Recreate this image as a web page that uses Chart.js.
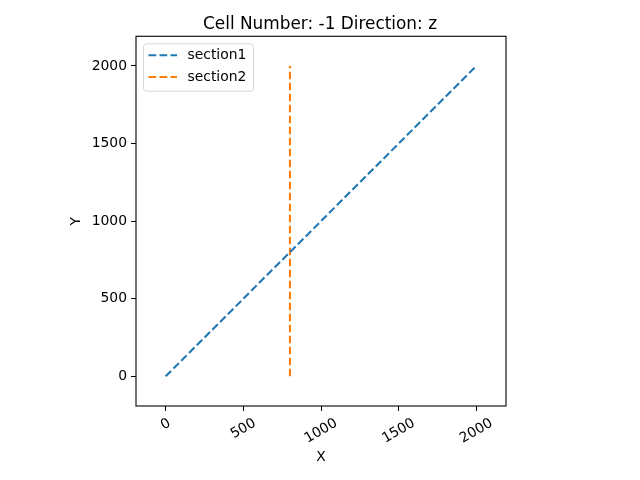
<!DOCTYPE html>
<html>
<head>
<meta charset="utf-8">
<script src="https://cdn.jsdelivr.net/npm/chart.js@4"></script>
<style>
  html, body { margin: 0; padding: 0; background: #fff; }
  #wrap { width: 640px; height: 480px; }
</style>
</head>
<body>
<div id="wrap"><canvas id="chart" width="640" height="480"></canvas></div>
<script>
// data
var section1X = [0, 2000];
var section1Y = [0, 2000];
var section2X = [800, 800];
var section2Y = [0, 2000];
var tickValues = [0, 500, 1000, 1500, 2000];
var axisMin = -191;
var axisMax = 2191;

function toPoints(xs, ys) {
    return xs.map(function (x, i) { return { x: x, y: ys[i] }; });
}

var FONT = 'DejaVu Sans';
var TICK_FONT = '13.9px "' + FONT + '"';

// box round the plot + matplotlib-like legend inside the axes
var framePlugin = {
    id: 'frame',
    afterDatasetsDraw: function (chart) {
        var ctx = chart.ctx, a = chart.chartArea;
        ctx.save();
        ctx.strokeStyle = '#000';
        ctx.lineWidth = 1.1;
        ctx.strokeRect(a.left, a.top, a.right - a.left, a.bottom - a.top);

        var fx = a.left + 7, fy = a.top + 7, fw = 110, fh = 47.4;
        ctx.beginPath();
        ctx.roundRect(fx + 0.5, fy + 0.5, fw, fh, 3);
        ctx.fillStyle = 'rgba(255,255,255,0.8)';
        ctx.fill();
        ctx.strokeStyle = '#d6d6d6';
        ctx.lineWidth = 1;
        ctx.stroke();

        ctx.font = '13.9px "' + FONT + '"';
        ctx.textBaseline = 'middle';
        ctx.textAlign = 'left';
        chart.data.datasets.forEach(function (ds, i) {
            var ry = fy + 12 + i * 21.7;
            ctx.beginPath();
            ctx.setLineDash(ds.borderDash);
            ctx.strokeStyle = ds.borderColor;
            ctx.lineWidth = ds.borderWidth;
            ctx.moveTo(fx + 5.5, ry);
            ctx.lineTo(fx + 34, ry);
            ctx.stroke();
            ctx.setLineDash([]);
            ctx.fillStyle = '#000';
            ctx.fillText(ds.label, fx + 44.5, ry);
        });
        ctx.restore();
    }
};

// rotated x labels: centre them on the tick like matplotlib does
// (chart.js anchors the right end of the text at the tick)
var centerTicksPlugin = {
    id: 'centerTicks',
    beforeDraw: function (chart) {
        var scale = chart.scales.x;
        var items = scale.getLabelItems();
        if (!items || items._centered) return;
        items._centered = true;
        var rot = scale.labelRotation * Math.PI / 180;
        var ctx = chart.ctx;
        ctx.save();
        items.forEach(function (it) {
            var tr = it.options && it.options.translation;
            if (!tr) return;
            ctx.font = (it.font && it.font.string) || TICK_FONT;
            var w = ctx.measureText(String(it.label)).width;
            tr[0] += w * Math.cos(rot) / 2;
        });
        ctx.restore();
    }
};

function axis(title, extra) {
    var o = {
        type: 'linear',
        min: axisMin,
        max: axisMax,
        afterBuildTicks: function (scale) {
            scale.ticks = tickValues.map(function (v) { return { value: v }; });
        },
        grid: {
            display: true,
            drawOnChartArea: false,
            drawTicks: true,
            tickLength: 5,
            tickWidth: 1,
            tickColor: '#000'
        },
        border: { display: false },
        ticks: {
            color: '#000',
            font: { family: FONT, size: 13.9 },
            padding: 4,
            callback: function (v) { return String(v); }
        },
        title: {
            display: true,
            text: title,
            color: '#000',
            font: { family: FONT, size: 13.9 }
        }
    };
    for (var k in extra) {
        if (typeof extra[k] === 'object' && o[k]) Object.assign(o[k], extra[k]);
        else o[k] = extra[k];
    }
    return o;
}

var ctx = document.getElementById('chart').getContext('2d');
var chart = new Chart(ctx, {
    type: 'scatter',
    data: {
        datasets: [{
            label: 'section1',
            data: toPoints(section1X, section1Y),
            showLine: true,
            borderColor: '#1f77b4',
            borderWidth: 2.08,
            borderDash: [7.7, 3.3],
            pointRadius: 0,
            fill: false
        },
        {
            label: 'section2',
            data: toPoints(section2X, section2Y),
            showLine: true,
            borderColor: '#ff7f0e',
            borderWidth: 2.08,
            borderDash: [7.7, 3.3],
            pointRadius: 0,
            fill: false
        }]
    },
    options: {
        responsive: false,
        animation: false,
        layout: { padding: 0 },
        plugins: {
            legend: { display: false },
            tooltip: { enabled: false },
            title: {
                display: true,
                text: 'Cell Number: -1 Direction: z',
                color: '#000',
                font: { family: FONT, size: 16.9, weight: 'normal' },
                padding: { top: 14, bottom: 2 }
            }
        },
        scales: {
            x: axis('X', {
                ticks: { minRotation: 30, maxRotation: 30 },
                title: { padding: { top: 0, bottom: 14 } },
                afterFit: function (scale) { scale.height = 74; }
            }),
            y: axis('Y', {
                title: { padding: { top: 68, bottom: 0 } },
                afterFit: function (scale) { scale.width = 136; }
            }),
            // empty right-hand spacer so the plot sits where it does in the reference
            yRight: {
                type: 'linear',
                position: 'right',
                display: true,
                grid: { display: false },
                border: { display: false },
                ticks: { display: false },
                afterFit: function (scale) { scale.width = 134; }
            }
        }
    },
    plugins: [framePlugin, centerTicksPlugin]
});
</script>
</body>
</html>
